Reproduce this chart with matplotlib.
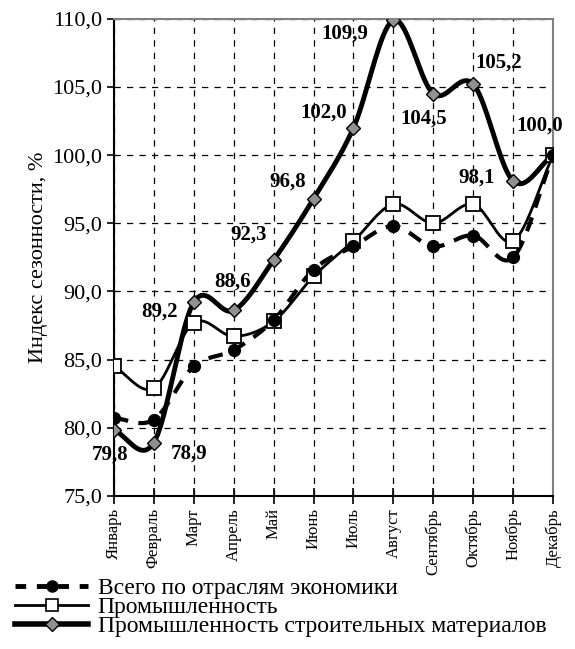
import matplotlib
matplotlib.use('Agg')
import matplotlib.pyplot as plt
from matplotlib.lines import Line2D
from matplotlib.ticker import FuncFormatter
import numpy as np

months = ['Январь', 'Февраль', 'Март', 'Апрель', 'Май', 'Июнь', 'Июль',
          'Август', 'Сентябрь', 'Октябрь', 'Ноябрь', 'Декабрь']
total = [80.7, 80.6, 84.5, 85.7, 87.9, 91.6, 93.3, 94.8, 93.3, 94.1, 92.5, 100.0]
industry = [84.5, 82.9, 87.7, 86.7, 87.8, 91.1, 93.7, 96.4, 95.0, 96.4, 93.7, 100.0]
building = [79.8, 78.9, 89.2, 88.6, 92.3, 96.8, 102.0, 109.9, 104.5, 105.2, 98.1, 100.0]

names = ['Всего по отраслям экономики', 'Промышленность',
         'Промышленность строительных материалов']

plt.rcParams['font.family'] = 'Liberation Serif'


def smooth(y, n=20):
    # Catmull-Rom curve through the points, like Excel's smoothed line
    y = np.asarray(y, float)
    x = np.arange(len(y), dtype=float)
    px = np.concatenate([[2 * x[0] - x[1]], x, [2 * x[-1] - x[-2]]])
    py = np.concatenate([[2 * y[0] - y[1]], y, [2 * y[-1] - y[-2]]])
    xs, ys = [], []
    t = np.linspace(0, 1, n, endpoint=False)
    for i in range(1, len(px) - 2):
        for arr, out in ((px, xs), (py, ys)):
            p0, p1, p2, p3 = arr[i - 1], arr[i], arr[i + 1], arr[i + 2]
            out.extend(0.5 * ((2 * p1) + (-p0 + p2) * t
                              + (2 * p0 - 5 * p1 + 4 * p2 - p3) * t ** 2
                              + (-p0 + 3 * p1 - 3 * p2 + p3) * t ** 3))
    xs.append(x[-1]); ys.append(y[-1])
    return np.array(xs), np.array(ys)


fig = plt.figure(figsize=(5.75, 6.49), dpi=100)
ax = fig.add_axes([0.198, 0.236, 0.764, 0.735])
x = np.arange(len(months))

# construction materials
sx, sy = smooth(building)
ax.plot(sx, sy, color='black', lw=3.5, zorder=3, solid_capstyle='round')
ax.plot(x, building, ls='none', marker='D', ms=7.5, mfc='#909090', mec='black',
        mew=1, zorder=5)

# industry
sx, sy = smooth(industry)
ax.plot(sx, sy, color='black', lw=2, zorder=3)
ax.plot(x, industry, ls='none', marker='s', ms=9.5, mfc='white', mec='black',
        mew=1.3, zorder=5)

# total
sx, sy = smooth(total)
ax.plot(sx, sy, color='black', lw=3, ls=(0, (3.5, 2.5)), zorder=4)
ax.plot(x, total, ls='none', marker='o', ms=8.5, mfc='black', mec='black',
        zorder=5)

# value labels for construction materials (offsets in pixels, y down)
offsets = [(-4, 24), (35, 11), (-34, 9), (-1, -29), (-25, -25), (-26, -17),
           (-30, -15), (-49, 13), (-10, 25), (25, -22), (-37, -3), (-13, -30)]
for i, v in enumerate(building):
    dx, dy = offsets[i]
    ax.annotate(f'{v:.1f}'.replace('.', ','), (x[i], v),
                xytext=(dx / 1.389, -dy / 1.389),
                textcoords='offset points', ha='center', va='center',
                fontsize=15, fontweight='bold', zorder=6)

ax.set_xlim(0, 11)
ax.set_ylim(75, 110)
ax.set_yticks(np.arange(75, 111, 5))
ax.yaxis.set_major_formatter(FuncFormatter(lambda v, p: f'{v:.1f}'.replace('.', ',')))
ax.set_xticks(x)
ax.set_xticklabels(months, rotation=90, fontsize=12)
ax.tick_params(axis='y', labelsize=16, direction='out', length=5, width=1.2)
ax.tick_params(axis='x', direction='inout', length=12, width=1.2, pad=3)
ax.set_ylabel('Индекс сезонности, %', fontsize=16, labelpad=3)

ax.grid(True, color='black', ls=(0, (5, 5)), lw=0.9)
ax.set_axisbelow(True)
for s in ['left', 'bottom']:
    ax.spines[s].set_linewidth(1.5)
    ax.spines[s].set_color('black')
for s in ['top', 'right']:
    ax.spines[s].set_color('#808080')
    ax.spines[s].set_linewidth(1.5)

handles = [
    Line2D([], [], color='black', lw=3.5, ls=(0, (2.2, 2.2)), marker='o', ms=8,
           mfc='black'),
    Line2D([], [], color='black', lw=2, marker='s', ms=8, mfc='white',
           mec='black', mew=1.2),
    Line2D([], [], color='black', lw=4, marker='D', ms=7, mfc='#909090',
           mec='black', mew=1),
]
fig.legend(handles, names, loc='upper left', bbox_to_anchor=(0.026, 0.110),
           frameon=False, fontsize=17, handlelength=3.1, handletextpad=0.4,
           labelspacing=-0.1, borderaxespad=0, borderpad=0)

fig.savefig('out.png', dpi=100)
